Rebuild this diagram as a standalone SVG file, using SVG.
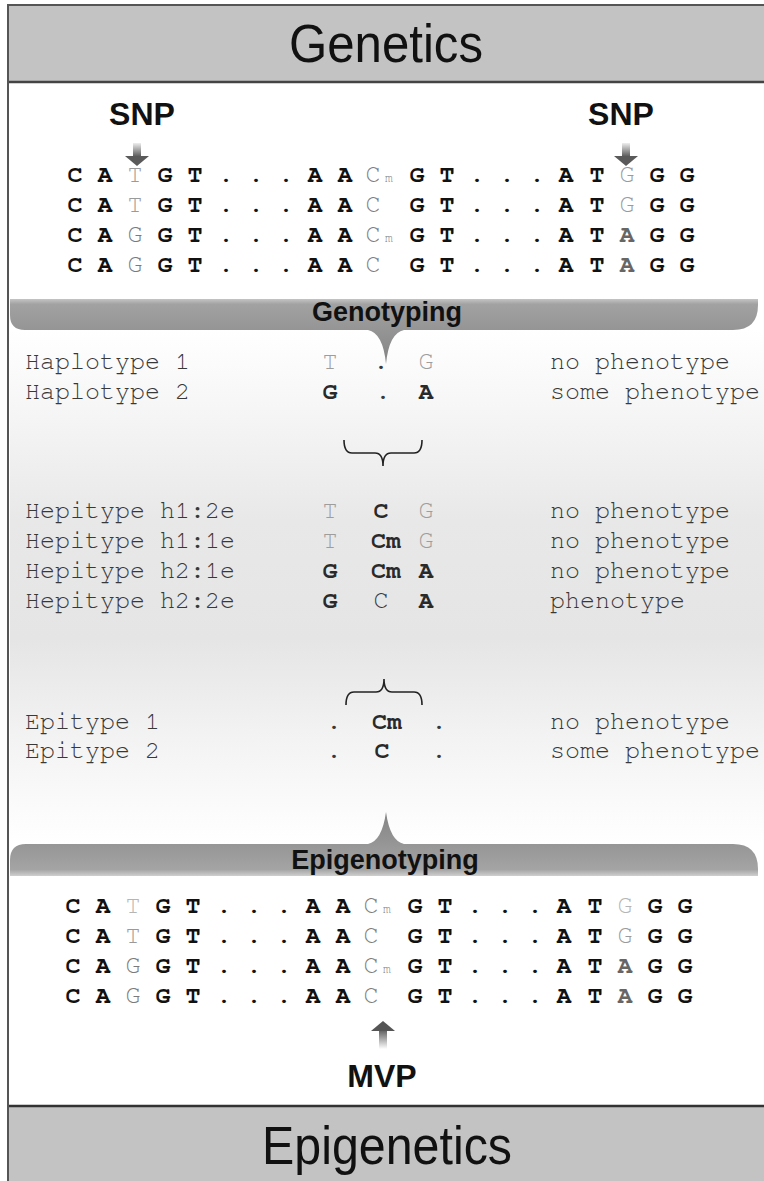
<svg xmlns="http://www.w3.org/2000/svg" width="764" height="1181" viewBox="0 0 764 1181">
<defs>
<style>
.hdr{font-family:"Liberation Sans",Arial,sans-serif;font-size:53px;fill:#111;text-anchor:middle}
.lbl{font-family:"Liberation Sans",Arial,sans-serif;font-weight:bold;fill:#111;text-anchor:middle}
.seq{font-family:"Nimbus Mono PS","FreeMono","Liberation Mono","Courier New",monospace;font-weight:bold;font-size:25px;fill:#111;text-anchor:middle}
.g1{fill:#9a9a9a;font-weight:normal}
.g0{fill:#b5b5b5;font-weight:normal}
.g2{fill:#7a7a7a;font-weight:normal}
.g3{fill:#666}
.cg{fill:#7d7d7d;font-weight:normal}
.sub{font-size:13px;fill:#7d7d7d;font-weight:normal}
.mono{font-family:"Nimbus Mono PS","FreeMono","Liberation Mono","Courier New",monospace;font-size:25px;fill:#383838}
.mid{text-anchor:middle}
.lt{fill:#9d9d9d}
.bd{font-weight:bold;fill:#2a2a2a}
.brace{fill:none;stroke:#222;stroke-width:1.6}
</style>
<linearGradient id="midbg" x1="0" y1="0" x2="0" y2="1">
<stop offset="0" stop-color="#ffffff"/>
<stop offset="0.17" stop-color="#f5f5f5"/>
<stop offset="0.37" stop-color="#e8e8e8"/>
<stop offset="0.6" stop-color="#e5e5e5"/>
<stop offset="0.78" stop-color="#f2f2f2"/>
<stop offset="1" stop-color="#ffffff"/>
</linearGradient>
<linearGradient id="band1" x1="0" y1="0" x2="0" y2="1">
<stop offset="0" stop-color="#c4c4c4"/>
<stop offset="0.08" stop-color="#a2a2a2"/>
<stop offset="1" stop-color="#838383"/>
</linearGradient>
<linearGradient id="band2" x1="0" y1="0" x2="0" y2="1">
<stop offset="0" stop-color="#848484"/>
<stop offset="0.9" stop-color="#a4a4a4"/>
<stop offset="1" stop-color="#cfcfcf"/>
</linearGradient>
<linearGradient id="down" x1="0" y1="0" x2="0" y2="1">
<stop offset="0" stop-color="#eeeeee"/>
<stop offset="1" stop-color="#555"/>
</linearGradient>
<linearGradient id="up" x1="0" y1="0" x2="0" y2="1">
<stop offset="0" stop-color="#555"/>
<stop offset="1" stop-color="#ffffff"/>
</linearGradient>
</defs>

<rect x="0" y="0" width="764" height="1181" fill="#fff"/>
<rect x="10" y="330" width="754" height="514" fill="url(#midbg)"/>

<g id="header-genetics">
<rect x="8" y="5" width="760" height="77" fill="#c3c3c3"/>
<line x1="8" y1="82" x2="764" y2="82" stroke="#444" stroke-width="2.5"/>
<text class="hdr" x="386" y="62" textLength="194" lengthAdjust="spacingAndGlyphs">Genetics</text>
</g>

<g id="header-epigenetics">
<rect x="8" y="1106" width="760" height="80" fill="#c3c3c3"/>
<line x1="8" y1="1106" x2="764" y2="1106" stroke="#333" stroke-width="2.5"/>
<text class="hdr" x="387" y="1164" textLength="250" lengthAdjust="spacingAndGlyphs">Epigenetics</text>
</g>

<rect x="8" y="5" width="770" height="1190" fill="none" stroke="#555" stroke-width="2"/>

<g id="snp-left"><text class="lbl" x="142" y="125" font-size="32">SNP</text></g>
<g id="snp-right"><text class="lbl" x="621" y="125" font-size="32">SNP</text></g>

<g id="seq-top">
<text class="seq" y="182"><tspan x="75 105">CA</tspan><tspan class="g1" x="135">T</tspan><tspan x="165 195 226 256 286 315 345">GT...AA</tspan><tspan class="cg" x="373">C</tspan><tspan class="sub" x="389">m</tspan><tspan x="417 447 477 507 537 566 597">GT...AT</tspan><tspan class="g1" x="627">G</tspan><tspan x="657 687">GG</tspan></text>
<text class="seq" y="212"><tspan x="75 105">CA</tspan><tspan class="g1" x="135">T</tspan><tspan x="165 195 226 256 286 315 345">GT...AA</tspan><tspan class="cg" x="373">C</tspan><tspan x="417 447 477 507 537 566 597">GT...AT</tspan><tspan class="g1" x="627">G</tspan><tspan x="657 687">GG</tspan></text>
<text class="seq" y="242"><tspan x="75 105">CA</tspan><tspan class="g2" x="135">G</tspan><tspan x="165 195 226 256 286 315 345">GT...AA</tspan><tspan class="cg" x="373">C</tspan><tspan class="sub" x="389">m</tspan><tspan x="417 447 477 507 537 566 597">GT...AT</tspan><tspan class="g3" x="627">A</tspan><tspan x="657 687">GG</tspan></text>
<text class="seq" y="272"><tspan x="75 105">CA</tspan><tspan class="g2" x="135">G</tspan><tspan x="165 195 226 256 286 315 345">GT...AA</tspan><tspan class="cg" x="373">C</tspan><tspan x="417 447 477 507 537 566 597">GT...AT</tspan><tspan class="g3" x="627">A</tspan><tspan x="657 687">GG</tspan></text>
</g>

<g id="banner-genotyping">
<path d="M10,299 H758 V305 Q758,330 733,330 H404 Q389,333 386,364 Q383,333 368,330 H25 Q10,330 10,315 Z" fill="url(#band1)"/>
<text class="lbl" x="387" y="321" font-size="27">Genotyping</text>
</g>

<g id="haplotypes">
<text class="mono" x="25" y="369">Haplotype 1</text>
<text class="mono mid lt" x="330" y="369">T</text>
<text class="mono mid" x="381" y="369" fill="#333">.</text>
<text class="mono mid lt" x="426" y="369">G</text>
<text class="mono" x="550" y="369">no phenotype</text>
<text class="mono" x="25" y="399">Haplotype 2</text>
<text class="mono mid bd" x="330" y="399">G</text>
<text class="mono mid" x="383" y="399" fill="#333">.</text>
<text class="mono mid bd" x="426" y="399">A</text>
<text class="mono" x="550" y="399">some phenotype</text>
</g>

<g id="hepitypes">
<text class="mono" x="25" y="518">Hepitype h1:2e</text>
<text class="mono mid lt" x="330" y="518">T</text>
<text class="mono mid bd" x="381" y="518">C</text>
<text class="mono mid lt" x="426" y="518">G</text>
<text class="mono" x="550" y="518">no phenotype</text>
<text class="mono" x="25" y="548">Hepitype h1:1e</text>
<text class="mono mid lt" x="330" y="548">T</text>
<text class="mono mid bd" x="386" y="548">Cm</text>
<text class="mono mid lt" x="426" y="548">G</text>
<text class="mono" x="550" y="548">no phenotype</text>
<text class="mono" x="25" y="578">Hepitype h2:1e</text>
<text class="mono mid bd" x="330" y="578">G</text>
<text class="mono mid bd" x="386" y="578">Cm</text>
<text class="mono mid bd" x="426" y="578">A</text>
<text class="mono" x="550" y="578">no phenotype</text>
<text class="mono" x="25" y="608">Hepitype h2:2e</text>
<text class="mono mid bd" x="330" y="608">G</text>
<text class="mono mid" x="381" y="608" fill="#777">C</text>
<text class="mono mid bd" x="426" y="608">A</text>
<text class="mono" x="550" y="608">phenotype</text>
</g>

<g id="epitypes">
<text class="mono" x="25" y="729">Epitype 1</text>
<text class="mono mid" x="334" y="729">.</text>
<text class="mono mid bd" x="387" y="729" fill="#444">Cm</text>
<text class="mono mid" x="439" y="729">.</text>
<text class="mono" x="550" y="729">no phenotype</text>
<text class="mono" x="25" y="758">Epitype 2</text>
<text class="mono mid" x="334" y="758">.</text>
<text class="mono mid bd" x="382" y="758" fill="#555">C</text>
<text class="mono mid" x="439" y="758">.</text>
<text class="mono" x="550" y="758">some phenotype</text>
</g>

<g id="banner-epigenotyping">
<path d="M10,876 V860 Q10,844 26,844 H368 Q382,841 386,812 Q390,841 404,844 H733 Q758,844 758,869 V876 Z" fill="url(#band2)"/>
<text class="lbl" x="385" y="869" font-size="27">Epigenotyping</text>
</g>

<g id="seq-bottom">
<text class="seq" y="913"><tspan x="73 103">CA</tspan><tspan class="g0" x="133">T</tspan><tspan x="163 193 224 254 284 313 343">GT...AA</tspan><tspan class="cg" x="371">C</tspan><tspan class="sub" x="387">m</tspan><tspan x="415 445 475 505 535 564 595">GT...AT</tspan><tspan class="g0" x="625">G</tspan><tspan x="655 685">GG</tspan></text>
<text class="seq" y="943"><tspan x="73 103">CA</tspan><tspan class="g1" x="133">T</tspan><tspan x="163 193 224 254 284 313 343">GT...AA</tspan><tspan class="cg" x="371">C</tspan><tspan x="415 445 475 505 535 564 595">GT...AT</tspan><tspan class="g1" x="625">G</tspan><tspan x="655 685">GG</tspan></text>
<text class="seq" y="973"><tspan x="73 103">CA</tspan><tspan class="g2" x="133">G</tspan><tspan x="163 193 224 254 284 313 343">GT...AA</tspan><tspan class="cg" x="371">C</tspan><tspan class="sub" x="387">m</tspan><tspan x="415 445 475 505 535 564 595">GT...AT</tspan><tspan class="g3" x="625">A</tspan><tspan x="655 685">GG</tspan></text>
<text class="seq" y="1003"><tspan x="73 103">CA</tspan><tspan class="g2" x="133">G</tspan><tspan x="163 193 224 254 284 313 343">GT...AA</tspan><tspan class="cg" x="371">C</tspan><tspan x="415 445 475 505 535 564 595">GT...AT</tspan><tspan class="g3" x="625">A</tspan><tspan x="655 685">GG</tspan></text>
</g>

<g id="mvp"><text class="lbl" x="382" y="1087" font-size="32">MVP</text></g>

<g id="connectors">
<rect x="133" y="143" width="8" height="14" fill="url(#down)"/>
<path d="M125,156 H149 L137,166 Z" fill="#5a5a5a"/>
<rect x="622" y="143" width="8" height="14" fill="url(#down)"/>
<path d="M614,156 H638 L626,166 Z" fill="#5a5a5a"/>
<rect x="379" y="1029" width="8" height="20" fill="url(#up)"/>
<path d="M371,1031 H395 L383,1021 Z" fill="#555"/>
<path class="brace" d="M344,440 Q344,453 352,453 H375 Q383,453 383,466 Q383,453 391,453 H414 Q422,453 422,440"/>
<path class="brace" d="M346,705 Q346,692 354,692 H376 Q384,692 384,679 Q384,692 392,692 H414 Q422,692 422,705"/>
</g>
</svg>
